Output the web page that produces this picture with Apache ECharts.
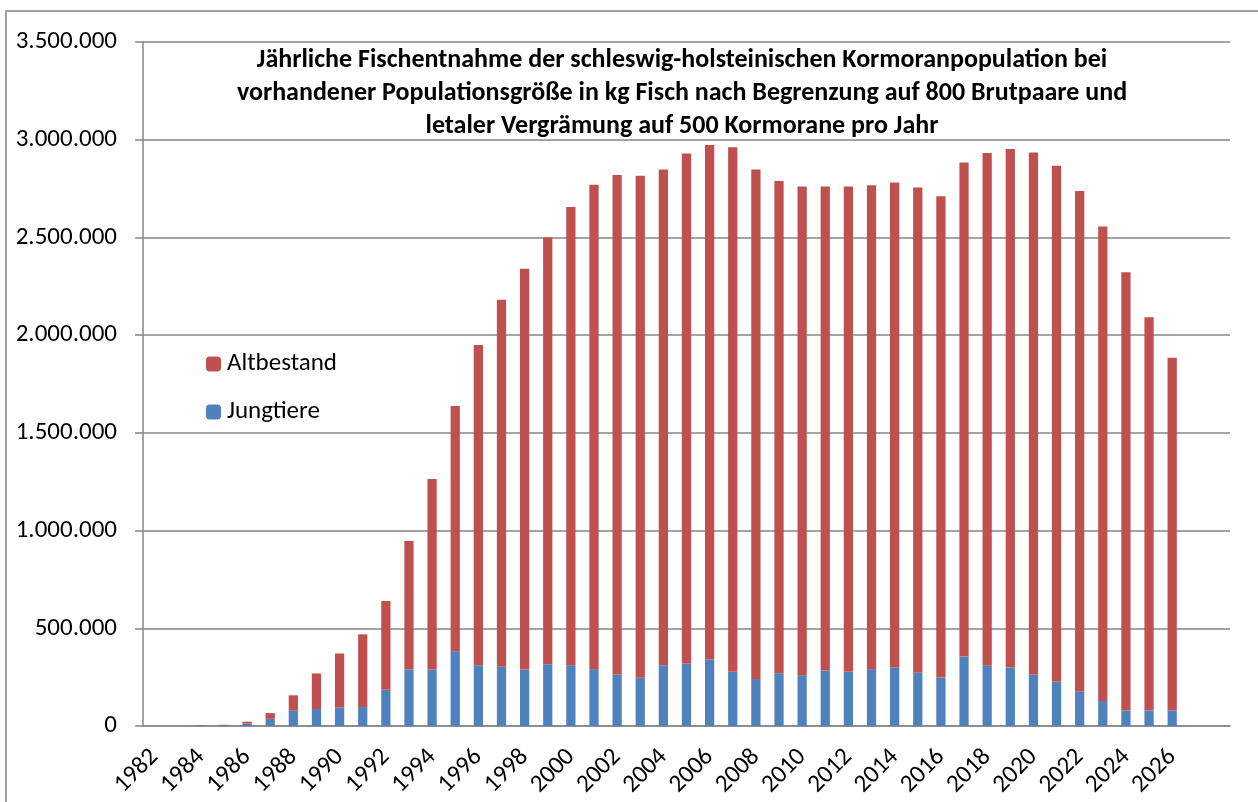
<!DOCTYPE html>
<html>
<head>
<meta charset="utf-8">
<script src="https://cdn.jsdelivr.net/npm/echarts@6/dist/echarts.min.js"></script>
<style>
  html, body { margin: 0; padding: 0; background: #fff; }
  #chart { width: 1258px; height: 802px; }
</style>
</head>
<body>
<div id="chart"></div>
<script>
// Jahre (die letzten zwei Kategorien sind leer)
const years = [
  "1982", "1983", "1984", "1985", "1986", "1987", "1988", "1989", "1990", "1991",
  "1992", "1993", "1994", "1995", "1996", "1997", "1998", "1999", "2000", "2001",
  "2002", "2003", "2004", "2005", "2006", "2007", "2008", "2009", "2010", "2011",
  "2012", "2013", "2014", "2015", "2016", "2017", "2018", "2019", "2020", "2021",
  "2022", "2023", "2024", "2025", "2026", "", ""
];
// kg Fisch, Jungtiere
const jungtiere = [
  0, 0, 1000, 2000, 12000, 37000, 78000, 87000, 95000, 97000,
  185000, 289000, 289000, 383000, 311000, 303000, 289000, 316000, 311000, 291000,
  264000, 247000, 311000, 320000, 340000, 277000, 241000, 270000, 260000, 284000,
  279000, 291000, 298000, 272000, 248000, 355000, 308000, 299000, 264000, 228000,
  177000, 128000, 80000, 80000, 80000
];
// kg Fisch, Altbestand
const altbestand = [
  0, 0, 2000, 4000, 10000, 29000, 79000, 182000, 276000, 372000,
  455000, 658000, 975000, 1254000, 1639000, 1878000, 2051000, 2184000, 2345000, 2479000,
  2556000, 2568000, 2536000, 2609000, 2633000, 2684000, 2606000, 2519000, 2500000, 2476000,
  2481000, 2476000, 2483000, 2483000, 2463000, 2528000, 2624000, 2653000, 2670000, 2639000,
  2561000, 2428000, 2242000, 2012000, 1804000
];
const titleLines = [
  "Jährliche Fischentnahme der schleswig-holsteinischen Kormoranpopulation bei",
  "vorhandener Populationsgröße in kg Fisch nach Begrenzung auf 800 Brutpaare und",
  "letaler Vergrämung auf 500 Kormorane pro Jahr"
];

const FONT = "Carlito, Lato, sans-serif";
const GRAY = "#868686";

let chartDom = document.getElementById("chart");
let myChart = echarts.init(chartDom);

// 3500000 -> "3.500.000"
const fmt = (v) => String(v).replace(/\B(?=(\d{3})+(?!\d))/g, ".");

let option = {
  animation: false,
  backgroundColor: "#fff",
  title: {
    text: titleLines.join("\n"),
    left: 682,
    textAlign: "center",
    top: 44,
    padding: 0,
    textStyle: {
      fontFamily: FONT,
      fontWeight: "bold",
      fontSize: 26,
      lineHeight: 33,
      color: "#000",
    },
  },
  legend: {
    orient: "vertical",
    left: 206,
    top: 351,
    padding: 0,
    itemWidth: 15,
    itemHeight: 15,
    itemGap: 22,
    data: ["Altbestand", "Jungtiere"],
    textStyle: { fontFamily: FONT, fontSize: 25, lineHeight: 26, color: "#000", padding: [0, 0, 0, 1] },
  },
  grid: { left: 143, right: 28, top: 42, bottom: 76 },
  xAxis: {
    type: "category",
    data: years,
    axisLine: { lineStyle: { color: GRAY, width: 1.5 } },
    axisTick: { length: 7, lineStyle: { color: GRAY, width: 1.5 } },
    axisLabel: {
      interval: 1,
      rotate: 45,
      margin: 27,
      fontFamily: FONT,
      fontSize: 25,
      color: "#000",
    },
  },
  yAxis: {
    type: "value",
    min: 0,
    max: 3500000,
    interval: 500000,
    axisLine: { show: true, lineStyle: { color: GRAY, width: 1.5 } },
    axisTick: { show: true, length: 8, lineStyle: { color: GRAY, width: 1.5 } },
    splitLine: { lineStyle: { color: GRAY, width: 1.5 } },
    axisLabel: {
      margin: 26,
      fontFamily: FONT,
      fontSize: 25,
      color: "#000",
      formatter: fmt,
    },
  },
  series: [
    {
      name: "Jungtiere",
      type: "bar",
      stack: "gesamt",
      barWidth: "40%",
      data: jungtiere,
      itemStyle: { color: "#4F81BD" },
    },
    {
      name: "Altbestand",
      type: "bar",
      stack: "gesamt",
      barWidth: "40%",
      data: altbestand,
      itemStyle: { color: "#C0504D" },
    },
  ],
  graphic: [
    {
      type: "rect",
      shape: { x: 6, y: 11, width: 1300, height: 850 },
      style: { fill: null, stroke: GRAY, lineWidth: 1.5 },
      silent: true,
    },
  ],
};

option && myChart.setOption(option);
</script>
</body>
</html>
